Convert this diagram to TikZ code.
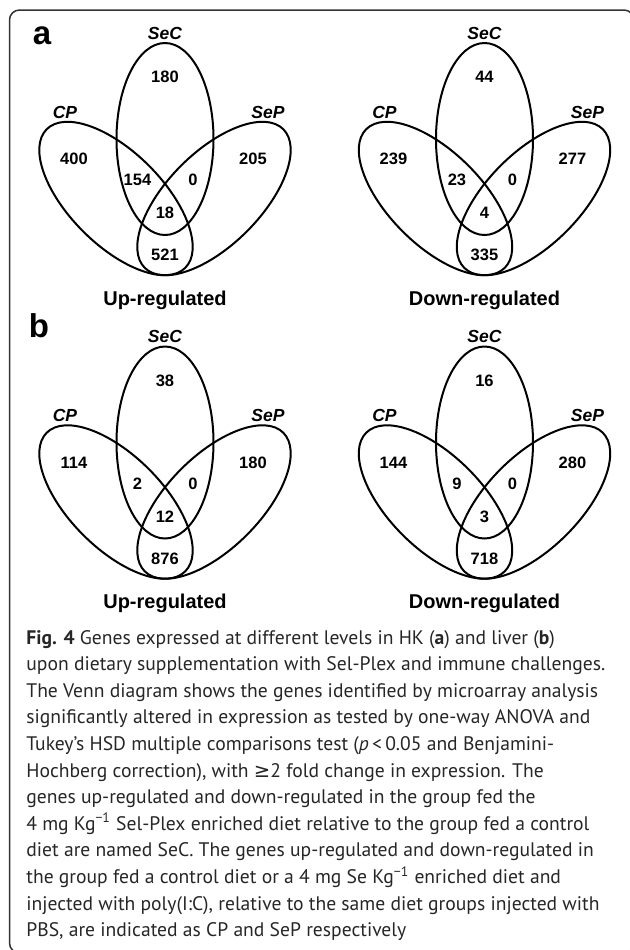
\documentclass[tikz,border=0pt]{standalone}
\usepackage{fontspec}
\setmainfont{PT Sans}
\newfontfamily\vf{Liberation Sans}
\newfontfamily\symf{DejaVu Sans}
\tikzset{
  vline/.style={line width=1pt, draw=black},
  lab/.style={font=\vf\bfseries\itshape\fontsize{8.75}{10}\selectfont, inner sep=0pt},
  num/.style={font=\vf\bfseries\fontsize{8.25}{10}\selectfont, inner sep=0pt},
  ttl/.style={font=\vf\bfseries\fontsize{10}{12}\selectfont, inner sep=0pt},
  pl/.style={font=\vf\bfseries\fontsize{16.5}{18}\selectfont, inner sep=0pt},
  capl/.style={font=\fontsize{9.8}{13}\selectfont, text=black!85, anchor=base west, inner sep=0pt},
}
\newcommand\VennFig[9]{%
  \draw[vline] (0,139) ellipse [x radius=48.5, y radius=96];
  \draw[vline, rotate around={-45:(-49,198.5)}] (-49,198.5) ellipse [x radius=98, y radius=46.5];
  \draw[vline, rotate around={45:(49,198.5)}] (49,198.5) ellipse [x radius=98, y radius=46.5];
  \node[lab] (#1sec) at (0,33) {SeC};
  \node[lab] (#1cp) at (-100,112) {CP};
  \node[lab] (#1sep) at (103,112) {SeP};
  \node[num] (#1n1) at (0,77) {#3};
  \node[num] (#1n2) at (-91,159) {#4};
  \node[num] (#1n3) at (88,159) {#5};
  \node[num] (#1n4) at (-27.5,180) {#6};
  \node[num] (#1n5) at (28,180) {#7};
  \node[num] (#1n6) at (0,213) {#8};
  \node[num] (#1n7) at (0,255) {#9};
  \node[ttl] (#1t) at (0,300) {#2};
}
\begin{document}
\begin{tikzpicture}[x=0.5pt,y=-0.5pt]
\useasboundingbox (0,0) rectangle (630,950);
\begin{scope}
\clip (0,0) rectangle (630,950);
\draw[line width=0.75pt, draw=black!80, rounded corners=5pt] (9.5,10) rectangle (634,953);
\end{scope}
\node[pl] (pa) at (42,36) {a};
\node[pl] (pb) at (39,326) {b};
\begin{scope}[shift={(165,0)}]
  \VennFig{au}{Up-regulated}{180}{400}{205}{154}{0}{18}{521}
\end{scope}
\begin{scope}[shift={(484.5,0)}]
  \VennFig{ad}{Down-regulated}{44}{239}{277}{23}{0}{4}{335}
\end{scope}
\begin{scope}[shift={(165,303.5)}]
  \VennFig{bu}{Up-regulated}{38}{114}{180}{2}{0}{12}{876}
\end{scope}
\begin{scope}[shift={(484.5,303.5)}]
  \VennFig{bd}{Down-regulated}{16}{144}{280}{9}{0}{3}{718}
\end{scope}
\node[capl] (c1) at (26,644) {\textbf{Fig. 4} Genes expressed at different levels in HK (\textbf{a}) and liver (\textbf{b})};
\node[capl] (c2) at (26,670.6) {upon dietary supplementation with Sel-Plex and immune challenges.};
\node[capl] (c3) at (26,697.2) {The Venn diagram shows the genes identified by microarray analysis};
\node[capl] (c4) at (26,723.8) {significantly altered in expression as tested by one-way ANOVA and};
\node[capl] (c5) at (26,750.4) {Tukey’s HSD multiple comparisons test (\textit{p}\,<\,0.05 and Benjamini-};
\node[capl] (c6) at (26,777) {Hochberg correction), with {\symf ≥}2 fold change in expression. The};
\node[capl] (c7) at (26,803.6) {genes up-regulated and down-regulated in the group fed the};
\node[capl] (c8) at (26,830.2) {4 mg Kg\textsuperscript{−1} Sel-Plex enriched diet relative to the group fed a control};
\node[capl] (c9) at (26,856.8) {diet are named SeC. The genes up-regulated and down-regulated in};
\node[capl] (c10) at (26,883.4) {the group fed a control diet or a 4 mg Se Kg\textsuperscript{−1} enriched diet and};
\node[capl] (c11) at (26,910) {injected with poly(I:C), relative to the same diet groups injected with};
\node[capl] (c12) at (26,936.6) {PBS, are indicated as CP and SeP respectively};
\end{tikzpicture}
\end{document}
